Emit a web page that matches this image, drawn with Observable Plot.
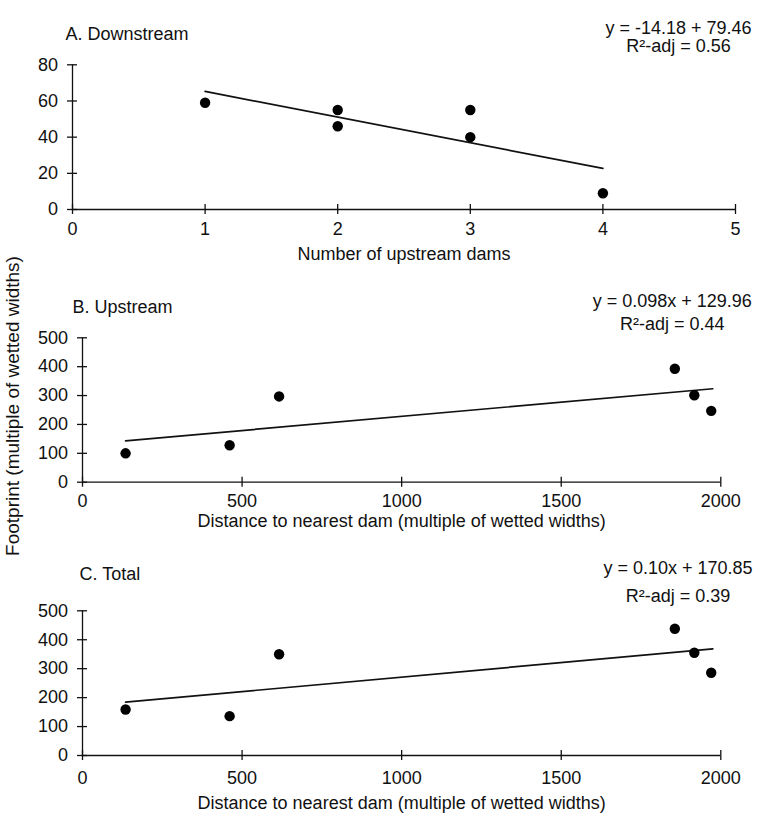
<!DOCTYPE html>
<html><head><meta charset="utf-8">
<script src="https://cdn.jsdelivr.net/npm/d3@7"></script>
<script src="https://cdn.jsdelivr.net/npm/@observablehq/plot@0.6"></script>
<style>
html,body{margin:0;padding:0;background:#fff;}
#chart{position:relative;width:759px;height:815px;}
#chart svg{position:absolute;left:0;}
</style></head><body><div id="chart"></div>
<script>
// ---- data ----
const downDams = [1, 2, 2, 3, 3, 4];
const downFootprint = [59, 55, 46, 55, 40, 9];
const upDistance = [135, 461, 616, 1856, 1917, 1970];
const upFootprint = [100, 128, 297, 393, 301, 247];
const totalDistance = [135, 461, 616, 1856, 1917, 1970];
const totalFootprint = [159, 136, 350, 438, 355, 286];

// fitted lines (from the printed equations) and their x extents
const downFit = {slope: -14.18, intercept: 79.46, from: 1, to: 4};
const upFit = {slope: 0.098, intercept: 129.96, from: 135, to: 1975};
const totalFit = {slope: 0.10, intercept: 170.85, from: 135, to: 1975};

const damTicks = [0, 1, 2, 3, 4, 5];
const distTicks = [0, 500, 1000, 1500, 2000];
const downYTicks = [0, 20, 40, 60, 80];
const fpYTicks = [0, 100, 200, 300, 400, 500];

const titles = ["A. Downstream", "B. Upstream", "C. Total"];
const equations = [
  ["y = -14.18 + 79.46", "R²-adj = 0.56"],
  ["y = 0.098x + 129.96", "R²-adj = 0.44"],
  ["y = 0.10x + 170.85", "R²-adj = 0.39"]
];
const xLabels = ["Number of upstream dams",
  "Distance to nearest dam (multiple of wetted widths)",
  "Distance to nearest dam (multiple of wetted widths)"];
const yLabel = "Footprint (multiple of wetted widths)";

// ---- helpers ----
const FONT = "'Liberation Sans', Arial, sans-serif";
const INK = "#111";
const toRows = (xs, ys) => xs.map((x, i) => ({x, y: ys[i]}));
const fitRows = f => [f.from, f.to].map(x => ({x, y: f.slope * x + f.intercept}));
const plain = d => String(d);

function panel(o) {
  const svg = Plot.plot({
    width: 759, height: o.height,
    marginTop: o.mt, marginBottom: o.mb, marginLeft: o.ml, marginRight: o.mr,
    x: {domain: o.xDomain},
    y: {domain: o.yDomain},
    style: {fontFamily: FONT, fontSize: "18px", background: "transparent", overflow: "visible", color: INK},
    marks: [
      Plot.ruleY([0], {stroke: INK, strokeWidth: 1.3}),
      Plot.ruleX([0], {stroke: INK, strokeWidth: 1.3}),
      Plot.ruleX(o.xTicks, {x: d => d, y1: 0, y2: 0, insetTop: -5, insetBottom: -5, stroke: INK, strokeWidth: 1.3}),
      Plot.ruleY(o.yTicks, {y: d => d, x1: 0, x2: 0, insetLeft: -5, insetRight: -5, stroke: INK, strokeWidth: 1.3}),
      Plot.axisX(o.xTicks, {tickSize: 0, tickPadding: o.xTickPad, tickFormat: plain, label: null, fontSize: 18, fill: INK}),
      Plot.axisY(o.yTicks, {tickSize: 0, tickPadding: 14.5, tickFormat: plain, label: null, fontSize: 18, fill: INK}),
      Plot.line(o.fit, {x: "x", y: "y", stroke: INK, strokeWidth: 1.7}),
      Plot.dot(o.pts, {x: "x", y: "y", r: 5.2, fill: "#000", stroke: "none"}),
      Plot.text([o.title], {frameAnchor: "top-left", textAnchor: "start", lineAnchor: "middle", dx: o.titleDx, dy: o.titleDy, fontSize: 18, fill: INK}),
      Plot.text([o.eq[0]], {frameAnchor: "top-right", textAnchor: "middle", lineAnchor: "middle", dx: o.eqDx, dy: o.eqDy[0], fontSize: 18, fill: INK}),
      Plot.text([o.eq[1]], {frameAnchor: "top-right", textAnchor: "middle", lineAnchor: "middle", dx: o.eqDx, dy: o.eqDy[1], fontSize: 18, fill: INK}),
      Plot.text([o.xLabel], {frameAnchor: "bottom", textAnchor: "middle", lineAnchor: "middle", dy: o.xLabelDy, fontSize: 18, fill: INK}),
      ...(o.extra || [])
    ]
  });
  svg.style.top = o.top + "px";
  return svg;
}

const chart = document.getElementById("chart");

chart.appendChild(panel({
  top: 0, height: 265, mt: 64.3, mb: 56, ml: 72, mr: 24,
  xDomain: [0, 5], yDomain: [0, 80], xTicks: damTicks, yTicks: downYTicks,
  pts: toRows(downDams, downFootprint), fit: fitRows(downFit),
  title: titles[0], titleDx: -7, titleDy: -30.1,
  eq: equations[0], eqDx: -57, eqDy: [-36.8, -18.5],
  xLabel: xLabels[0], xLabelDy: 45, xTickPad: 12.6
}));

chart.appendChild(panel({
  top: 540, height: 275, mt: 70.3, mb: 60, ml: 82, mr: 38.7,
  xDomain: [0, 2000], yDomain: [0, 500], xTicks: distTicks, yTicks: fpYTicks,
  pts: toRows(totalDistance, totalFootprint), fit: fitRows(totalFit),
  title: titles[2], titleDx: -3, titleDy: -36.1,
  eq: equations[2], eqDx: -42.8, eqDy: [-42.8, -14.5],
  xLabel: xLabels[2], xLabelDy: 48, xTickPad: 15.6
}));

chart.appendChild(panel({
  top: 265, height: 275, mt: 72.3, mb: 58.3, ml: 82, mr: 38.7,
  xDomain: [0, 2000], yDomain: [0, 500], xTicks: distTicks, yTicks: fpYTicks,
  pts: toRows(upDistance, upFootprint), fit: fitRows(upFit),
  title: titles[1], titleDx: -10, titleDy: -30.8,
  eq: equations[1], eqDx: -48.5, eqDy: [-36.6, -14],
  xLabel: xLabels[1], xLabelDy: 39.5, xTickPad: 12.4,
  extra: [
    Plot.text([yLabel], {frameAnchor: "left", textAnchor: "middle", lineAnchor: "middle", rotate: -90, dx: -70, dy: -4, fontSize: 19, fill: INK})
  ]
}));
</script></body></html>
